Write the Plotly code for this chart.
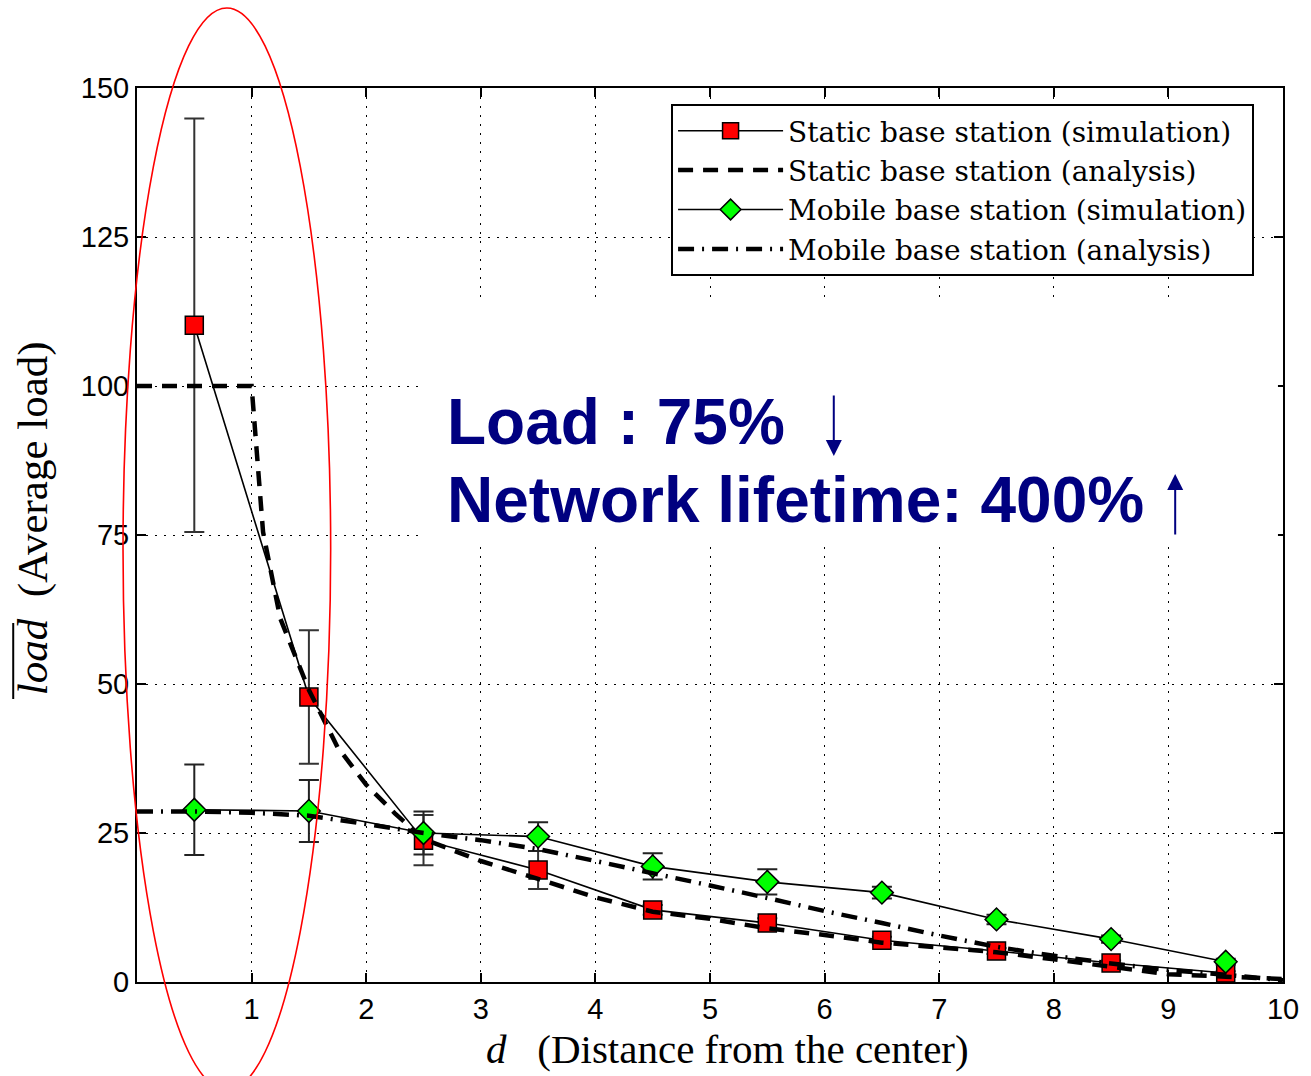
import plotly.graph_objects as go

# Distance rings (centre of each unit ring)
d_sim = [0.5, 1.5, 2.5, 3.5, 4.5, 5.5, 6.5, 7.5, 8.5, 9.5]

# Static base station, simulation: mean load and error half-widths
static_sim = [110.2, 47.8, 23.8, 18.8, 12.1, 9.9, 7.0, 5.2, 3.2, 1.5]
static_err = [34.7, 11.2, 4.2, 3.2, 0.8, 0.8, 0.6, 0.5, 0.4, 0.3]

# Mobile base station, simulation
mobile_sim = [28.9, 28.7, 25.0, 24.4, 19.4, 16.8, 15.0, 10.5, 7.2, 3.4]
mobile_err = [7.6, 5.2, 3.6, 2.4, 2.2, 2.1, 1.0, 0.8, 0.6, 0.5]

# Static base station, analysis curve
d_static_an = [0, 0.5, 1.0, 1.1, 1.25, 1.5, 1.75, 2.0, 2.25, 2.5, 3.0, 3.5, 4.0, 4.5,
               5.0, 5.5, 6.0, 6.5, 7.0, 7.5, 8.0, 8.5, 9.0, 9.5, 10.0]
static_an = [100, 100, 100, 75.5, 61, 49, 39.4, 33.1, 28.3, 24.0, 20.3, 17.3, 14.2, 11.8,
             10.6, 9.0, 7.9, 6.6, 5.8, 5.0, 3.8, 2.5, 1.3, 0.9, 0.5]

# Mobile base station, analysis curve
d_mobile_an = [0, 0.5, 1.0, 1.5, 2.0, 2.5, 3.0, 3.5, 4.0, 4.5, 5.0, 5.5, 6.0, 6.5, 7.0,
               7.5, 8.0, 8.5, 9.0, 9.5, 10.0]
mobile_an = [28.6, 28.6, 28.4, 27.9, 26.5, 25.0, 23.8, 22.3, 20.3, 18.3, 16.2, 14.1, 11.9,
             9.9, 7.8, 5.9, 4.4, 3.1, 2.0, 1.2, 0.3]

x_ticks = [1, 2, 3, 4, 5, 6, 7, 8, 9, 10]
y_ticks = [0, 25, 50, 75, 100, 125, 150]

SERIF = "Liberation Serif, Times New Roman, serif"
WIDE_SERIF = "DejaVu Serif, serif"
SANS = "Liberation Sans, Arial, sans-serif"
NAVY = "#000080"

fig = go.Figure()

fig.add_trace(go.Scatter(
    x=d_sim, y=static_sim, mode="lines+markers",
    name="Static base station (simulation)",
    line=dict(color="black", width=1.6),
    marker=dict(symbol="square", size=18, color="#ff0000",
                line=dict(color="black", width=1.5)),
    error_y=dict(type="data", array=static_err, visible=True,
                 color="#333333", thickness=2, width=10),
))
fig.add_trace(go.Scatter(
    x=d_static_an, y=static_an, mode="lines",
    name="Static base station (analysis)",
    line=dict(color="black", width=4.5, dash="15px,10px"),
))
fig.add_trace(go.Scatter(
    x=d_sim, y=mobile_sim, mode="lines+markers",
    name="Mobile base station (simulation)",
    line=dict(color="black", width=1.6),
    marker=dict(symbol="diamond", size=17.5, color="#00ff00",
                line=dict(color="black", width=1.5)),
    error_y=dict(type="data", array=mobile_err, visible=True,
                 color="#222222", thickness=2, width=10),
))
fig.add_trace(go.Scatter(
    x=d_mobile_an, y=mobile_an, mode="lines",
    name="Mobile base station (analysis)",
    line=dict(color="black", width=4.5, dash="16px,8px,2px,8px"),
))

axis_common = dict(
    showline=True, linecolor="black", linewidth=2, mirror="ticks",
    ticks="inside", ticklen=9, tickwidth=1.5, tickcolor="black",
    showgrid=True, gridcolor="black", gridwidth=1.2, griddash="2px,7px",
    zeroline=False,
    tickfont=dict(family=SANS, size=29, color="black"),
)

fig.update_xaxes(range=[0, 10], tickvals=x_ticks, ticktext=[str(v) for v in x_ticks],
                 **axis_common)
fig.update_yaxes(range=[0, 150], tickvals=y_ticks, ticktext=[str(v) for v in y_ticks],
                 **axis_common)

# white panel behind the summary text
fig.add_shape(type="rect", xref="paper", yref="paper",
              x0=0.2509, x1=0.9956, y0=0.4888, y1=0.7662,
              fillcolor="white", line=dict(width=0), layer="above")

# highlight ellipse around the innermost rings
fig.add_shape(type="circle", xref="paper", yref="paper",
              x0=-0.0122, x1=0.1690, y0=-0.1208, y1=1.0895,
              line=dict(color="#ff0000", width=1.6), layer="above")

annotations = [
    dict(text="<i>d</i>\u00a0\u00a0\u00a0(Distance from the center)", xref="paper", yref="paper",
         x=(729 - 137) / 1148, y=(982 - 1049) / 894, xanchor="center", yanchor="middle",
         showarrow=False, font=dict(family=SERIF, size=41, color="black")),
    dict(text="<i>load</i>\u00a0\u00a0(Average load)", xref="paper", yref="paper",
         x=(33 - 137) / 1148, y=(982 - 518) / 894, xanchor="center", yanchor="middle",
         textangle=-90, showarrow=False, font=dict(family=SERIF, size=43, color="black")),
    dict(text="<b>Load : 75%</b>", xref="paper", yref="paper",
         x=(446 - 137) / 1148, y=(982 - 422) / 894, xanchor="left", yanchor="middle",
         showarrow=False, font=dict(family=SANS, size=64, color=NAVY)),
    dict(text="<b>Network lifetime: 400%</b>", xref="paper", yref="paper",
         x=(446 - 137) / 1148, y=(982 - 500) / 894, xanchor="left", yanchor="middle",
         showarrow=False, font=dict(family=SANS, size=64, color=NAVY)),
    # down arrow after the load figure
    dict(text="", xref="paper", yref="paper",
         x=(835 - 137) / 1148, y=(982 - 456) / 894, ax=0, ay=-62,
         showarrow=True, arrowhead=2, arrowsize=1.6, arrowwidth=2, arrowcolor=NAVY),
    # up arrow after the lifetime figure
    dict(text="", xref="paper", yref="paper",
         x=(1177 - 137) / 1148, y=(982 - 474) / 894, ax=0, ay=62,
         showarrow=True, arrowhead=2, arrowsize=1.6, arrowwidth=2, arrowcolor=NAVY),
]

fig.update_layout(
    width=1311, height=1076,
    margin=dict(l=137, r=26, t=88, b=94),
    paper_bgcolor="white", plot_bgcolor="white",
    showlegend=True,
    legend=dict(
        x=(672 - 137) / 1148, y=(982 - 104) / 894, xanchor="left", yanchor="top",
        bgcolor="white", bordercolor="black", borderwidth=2,
        font=dict(family=WIDE_SERIF, size=28, color="black"),
        itemwidth=105, tracegroupgap=0,
    ),
    annotations=annotations,
)

# overline over the "load" symbol of the y title
fig.add_shape(type="line", xref="paper", yref="paper",
              x0=(13 - 137) / 1148, x1=(13 - 137) / 1148,
              y0=(982 - 699) / 894, y1=(982 - 623) / 894,
              line=dict(color="black", width=2))

fig.write_html("out.html")
